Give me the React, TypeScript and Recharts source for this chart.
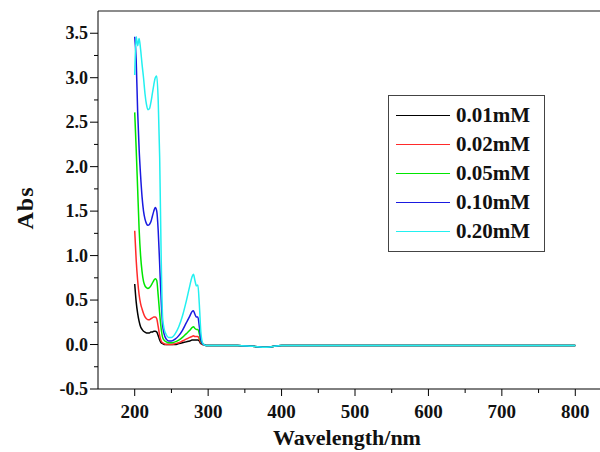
import { LineChart, Line, XAxis, YAxis, ReferenceLine, Legend } from 'recharts'

const FONT = '"Liberation Serif", "Times New Roman", serif'

// wavelength grid (nm)
const wavelengths = [
  200, 202, 204, 206, 208, 210, 212, 214, 216, 218, 220, 222, 224, 226, 228, 230, 232, 234, 236, 238, 240,
  243, 246, 250, 255, 260, 265, 270, 275,
  278, 280, 282, 284, 286, 288, 290, 292, 294,
  297, 300, 320, 340, 360, 380, 400, 450, 500, 550, 600, 650, 700, 750, 800,
]

// flat part after ~296 nm, shared by all curves
const flatTail = [-0.01, -0.01, -0.01, -0.01, -0.02, -0.03, -0.01, -0.01, -0.01, -0.01, -0.01, -0.01, -0.01, -0.01, -0.01]

const abs001 = [
  0.68, 0.48, 0.35, 0.26, 0.2, 0.17, 0.15, 0.14, 0.13, 0.13, 0.13, 0.14, 0.14, 0.15, 0.15, 0.14, 0.1, 0.05, 0.02, 0.01, 0.0,
  0.0, 0.0, 0.0, 0.0, 0.01, 0.02, 0.03, 0.04,
  0.05, 0.05, 0.05, 0.05, 0.05, 0.04, 0.01, 0.0, 0.0,
  ...flatTail,
]
const abs002 = [
  1.28, 0.95, 0.72, 0.56, 0.46, 0.4, 0.35, 0.31, 0.29, 0.28, 0.28, 0.29, 0.3, 0.31, 0.31, 0.29, 0.2, 0.1, 0.04, 0.02, 0.01,
  0.0, 0.0, 0.0, 0.01, 0.02, 0.04, 0.06, 0.08,
  0.09, 0.1, 0.09, 0.09, 0.09, 0.06, 0.02, 0.0, 0.0,
  ...flatTail,
]
const abs005 = [
  2.61, 2.2, 1.75, 1.3, 1.0, 0.82, 0.71, 0.66, 0.64, 0.63, 0.64, 0.66, 0.69, 0.72, 0.74, 0.72, 0.55, 0.35, 0.18, 0.08, 0.05,
  0.03, 0.02, 0.02, 0.03, 0.05, 0.08, 0.12, 0.16,
  0.19, 0.2, 0.18, 0.17, 0.17, 0.12, 0.04, 0.01, 0.0,
  ...flatTail,
]
const abs010 = [
  3.46, 3.2, 2.62, 2.2, 1.9, 1.66, 1.5, 1.41, 1.36, 1.34, 1.35, 1.38, 1.44, 1.5, 1.54, 1.5, 1.28, 0.9, 0.5, 0.22, 0.12,
  0.06, 0.04, 0.04, 0.06, 0.1, 0.16, 0.24, 0.32,
  0.37, 0.38, 0.34, 0.31, 0.31, 0.2, 0.06, 0.01, 0.0,
  ...flatTail,
]
const abs020 = [
  3.03, 3.46, 3.36, 3.44, 3.32, 3.15, 3.0, 2.82, 2.7, 2.64, 2.65, 2.72, 2.82, 2.92, 3.0, 3.02, 2.74, 2.1, 1.0, 0.3, 0.18,
  0.11, 0.08, 0.08, 0.12, 0.2, 0.32, 0.48, 0.66,
  0.76, 0.79, 0.72, 0.66, 0.67, 0.45, 0.15, 0.03, 0.0,
  ...flatTail,
]

const seriesNames = ['0.01mM', '0.02mM', '0.05mM', '0.10mM', '0.20mM']
const seriesValues = [abs001, abs002, abs005, abs010, abs020]
const seriesColors = ['#000000', '#ff2a2a', '#00e600', '#1a1ae0', '#22f0f0']

const xTicks = [200, 250, 300, 350, 400, 450, 500, 550, 600, 650, 700, 750, 800]
const yTicks = [-0.5, -0.25, 0, 0.25, 0.5, 0.75, 1, 1.25, 1.5, 1.75, 2, 2.25, 2.5, 2.75, 3, 3.25, 3.5]

const data = wavelengths.map((nm, i) => {
  const row: Record<string, number> = { nm }
  seriesNames.forEach((name, s) => {
    row[name] = seriesValues[s][i]
  })
  return row
})

const labelStyle = { fontFamily: FONT, fontWeight: 700, fill: '#111' }

function YTick({ x, y, payload }: any) {
  const v = payload.value
  const major = Math.abs(v * 2 - Math.round(v * 2)) < 1e-6
  return (
    <g>
      <line x1={x - (major ? 8 : 4)} x2={x} y1={y} y2={y} stroke="#000" strokeWidth={1} />
      {major && (
        <text x={x - 10} y={y} dy={6} textAnchor="end" fontSize={18} style={labelStyle}>
          {v.toFixed(1)}
        </text>
      )}
    </g>
  )
}

function XTick({ x, y, payload }: any) {
  const v = payload.value
  const major = v % 100 === 0
  return (
    <g>
      <line x1={x} x2={x} y1={y} y2={y + (major ? 7 : 4)} stroke="#000" strokeWidth={1} />
      {major && (
        <text x={x} y={y + 29} textAnchor="middle" fontSize={19} style={labelStyle}>
          {v}
        </text>
      )}
    </g>
  )
}

function LegendBox({ payload }: any) {
  return (
    <div
      style={{
        position: 'relative',
        width: 157,
        height: 157,
        border: '1.5px solid #444',
        boxSizing: 'border-box',
        background: '#fff',
      }}
    >
      {(payload || []).map((entry: any, i: number) => (
        <div
          key={entry.value}
          style={{ position: 'absolute', left: 0, top: 5 + i * 29, height: 29, width: 157, display: 'flex', alignItems: 'center' }}
        >
          <div style={{ marginLeft: 7, width: 54, height: 1.5, background: entry.color }} />
          <span style={{ marginLeft: 6, fontFamily: FONT, fontWeight: 700, fontSize: 21, color: '#111', lineHeight: '29px' }}>
            {entry.value}
          </span>
        </div>
      ))}
    </div>
  )
}

export default function App() {
  return (
    <div style={{ position: 'fixed', left: 0, top: 0, width: 600, height: 452, overflow: 'hidden', background: '#fff' }}>
      <LineChart width={640} height={452} data={data} margin={{ top: 11, right: 28, bottom: 0, left: 0 }}>
        <XAxis
          dataKey="nm"
          type="number"
          domain={[150, 850]}
          ticks={xTicks}
          interval={0}
          height={63}
          tickSize={0}
          tickMargin={0}
          tick={<XTick />}
          axisLine={{ stroke: '#000', strokeWidth: 1 }}
          label={{
            content: () => (
              <text x={347} y={445} textAnchor="middle" fontSize={22} style={labelStyle}>
                Wavelength/nm
              </text>
            ),
          }}
        />
        <YAxis
          type="number"
          domain={[-0.5, 3.75]}
          ticks={yTicks}
          interval={0}
          width={98}
          tickSize={0}
          tickMargin={0}
          tick={<YTick />}
          axisLine={{ stroke: '#000', strokeWidth: 1 }}
          label={{
            content: () => (
              <text transform="translate(33,208) rotate(-90)" textAnchor="middle" fontSize={24} letterSpacing={1} style={labelStyle}>
                Abs
              </text>
            ),
          }}
        />
        <ReferenceLine y={3.75} stroke="#666" strokeWidth={1.5} />
        <ReferenceLine x={850} stroke="#666" strokeWidth={1.5} />
        <Legend
          layout="horizontal"
          verticalAlign="middle"
          align="center"
          wrapperStyle={{ left: 388, top: 95, width: 157, height: 157 }}
          content={<LegendBox />}
        />
        {seriesNames.map((name, i) => (
          <Line
            key={name}
            dataKey={name}
            name={name}
            type="monotone"
            stroke={seriesColors[i]}
            strokeWidth={1.5}
            dot={false}
            isAnimationActive={false}
          />
        ))}
      </LineChart>
    </div>
  )
}
